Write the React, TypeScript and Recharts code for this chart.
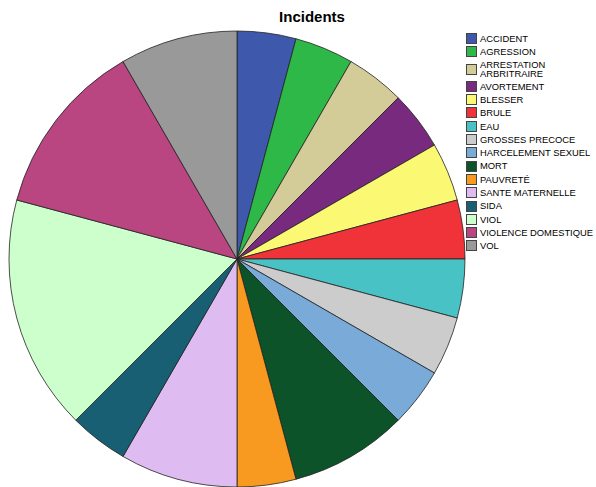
import React from 'react';
import { PieChart, Pie, Cell, Legend } from 'recharts';

// catégories et parts (unités sur 24)
const categories = [
  'ACCIDENT',
  'AGRESSION',
  'ARRESTATION ARBRITRAIRE',
  'AVORTEMENT',
  'BLESSER',
  'BRULE',
  'EAU',
  'GROSSES PRECOCE',
  'HARCELEMENT SEXUEL',
  'MORT',
  'PAUVRETÉ',
  'SANTE MATERNELLE',
  'SIDA',
  'VIOL',
  'VIOLENCE DOMESTIQUE',
  'VOL',
];
const counts = [1, 1, 1, 1, 1, 1, 1, 1, 1, 2, 1, 2, 1, 4, 3, 2];
const colors = [
  '#3e58ac',
  '#2eb848',
  '#d4cc98',
  '#782a7f',
  '#fbf873',
  '#ef3338',
  '#48c2c5',
  '#cccccc',
  '#7aaad7',
  '#0d5329',
  '#f89a20',
  '#debbf1',
  '#195f74',
  '#ccffcc',
  '#b94581',
  '#999999',
];

const data = categories.map((name, i) => ({ name, value: counts[i] }));

const LegendContent = () => (
  <div style={{ fontFamily: 'Liberation Sans, Arial, sans-serif', fontSize: 9.4, color: '#000' }}>
    {categories.map((name, i) => (
      <div key={name} style={{ display: 'flex', alignItems: 'center', marginBottom: 2.3 }}>
        <div
          style={{
            width: 9,
            height: 9,
            background: colors[i],
            border: '1px solid #444',
            marginRight: 3,
            flexShrink: 0,
          }}
        />
        <div style={{ lineHeight: '9.5px', whiteSpace: 'nowrap' }}>
          {name === 'ARRESTATION ARBRITRAIRE' ? (
            <>
              ARRESTATION
              <br />
              ARBRITRAIRE
            </>
          ) : (
            name
          )}
        </div>
      </div>
    ))}
  </div>
);

const App: React.FC = () => {
  return (
    <div style={{ position: 'absolute', left: 0, top: 0, width: 596, height: 487, background: '#fff' }}>
      <div
        style={{
          position: 'absolute',
          left: 0,
          top: 8,
          width: 624,
          textAlign: 'center',
          fontFamily: 'Liberation Sans, Arial, sans-serif',
          fontWeight: 'bold',
          fontSize: 15,
        }}
      >
        Incidents
      </div>
      <PieChart width={596} height={487}>
        <Pie
          data={data}
          dataKey="value"
          nameKey="name"
          cx={232}
          cy={254}
          outerRadius={228}
          startAngle={90}
          endAngle={-270}
          stroke="#222"
          strokeWidth={0.8}
          isAnimationActive={false}
        >
          {data.map((d, i) => (
            <Cell key={d.name} fill={colors[i]} />
          ))}
        </Pie>
        <Legend
          layout="vertical"
          align="right"
          verticalAlign="top"
          content={<LegendContent />}
          wrapperStyle={{ left: 466, top: 33, width: 130 }}
        />
      </PieChart>
    </div>
  );
};

export default App;
